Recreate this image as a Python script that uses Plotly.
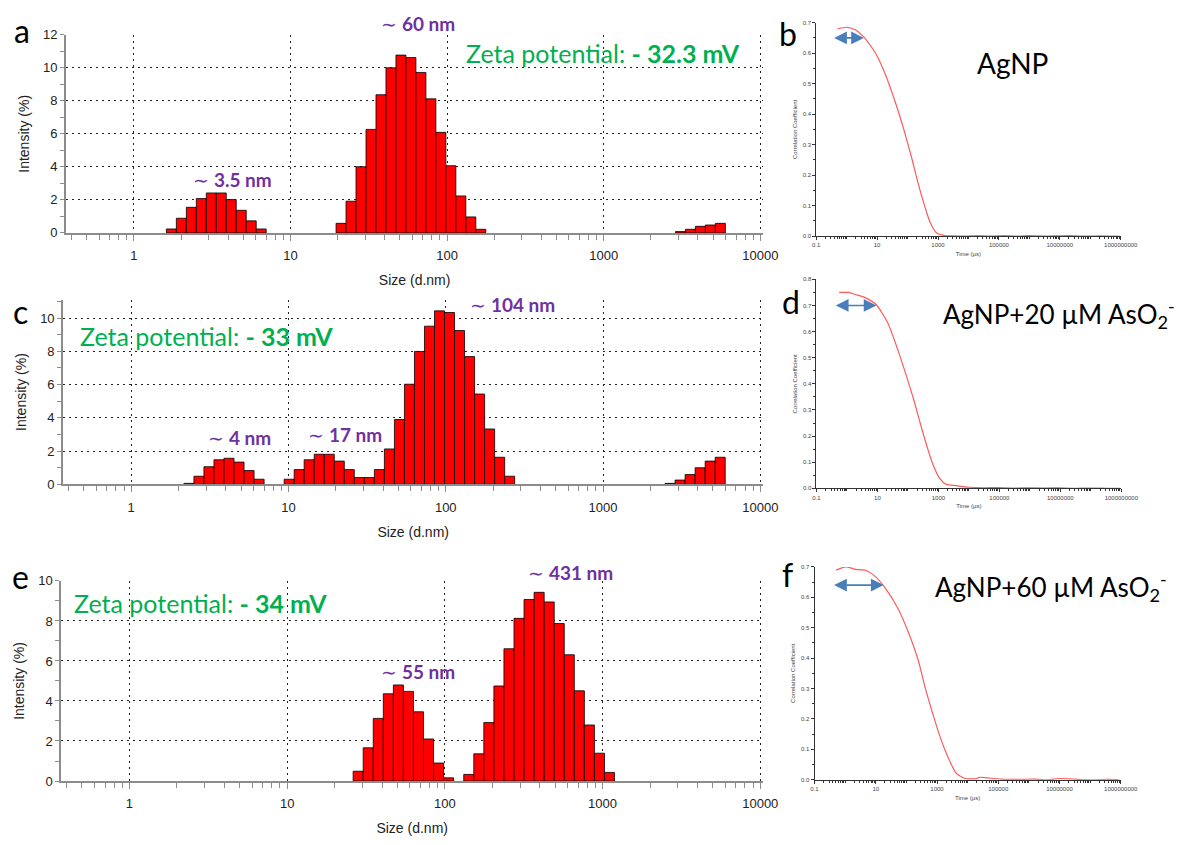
import numpy as np
import plotly.graph_objects as go

# ---------------- DATA ----------------
# DLS size classes (nm) and intensity (%) for the three samples
SIZES_A = [1.736, 2.010, 2.328, 2.696, 3.122, 3.615, 4.187, 4.849, 5.615, 6.503,
           21.04, 24.36, 28.21, 32.67, 37.84, 43.82, 50.75, 58.77, 68.06, 78.82,
           91.28, 105.7, 122.4, 141.8, 164.2,
           3091, 3580, 4145, 4801, 5560]
INT_A = [0.24, 0.89, 1.55, 2.08, 2.42, 2.42, 2.02, 1.37, 0.73, 0.24,
         0.58, 1.92, 4.01, 6.27, 8.37, 10.0, 10.77, 10.62, 9.72, 8.12,
         6.09, 4.07, 2.24, 0.97, 0.22,
         0.08, 0.22, 0.40, 0.48, 0.58]

SIZES_C = [2.328, 2.696, 3.122, 3.615, 4.187, 4.849, 5.615, 6.503,
           10.10, 11.70, 13.54, 15.69, 18.17, 21.04, 24.36, 28.21, 32.67, 37.84,
           43.82, 50.75, 58.77, 68.06, 78.82, 91.28, 105.7, 122.4, 141.8, 164.2,
           190.1, 220.2, 255.0,
           2669, 3091, 3580, 4145, 4801, 5560]
INT_C = [0.06, 0.49, 1.06, 1.48, 1.57, 1.34, 0.83, 0.31,
         0.31, 0.89, 1.48, 1.81, 1.81, 1.40, 0.89, 0.41, 0.41, 0.89,
         2.13, 3.90, 6.02, 7.99, 9.51, 10.43, 10.33, 9.25, 7.68, 5.43,
         3.33, 1.63, 0.49,
         0.06, 0.26, 0.59, 1.00, 1.40, 1.63]

SIZES_E = [28.21, 32.67, 37.84, 43.82, 50.75, 58.77, 68.06, 78.82, 91.28, 105.7,
           141.8, 164.2, 190.1, 220.2, 255.0, 295.3, 342.0, 396.1, 458.7, 531.2,
           615.1, 712.4, 825.0, 955.4, 1106]
INT_E = [0.49, 1.66, 3.13, 4.36, 4.80, 4.48, 3.46, 2.10, 0.90, 0.16,
         0.33, 1.36, 2.92, 4.75, 6.61, 8.13, 9.07, 9.43, 8.95, 7.87,
         6.31, 4.51, 2.80, 1.39, 0.43]

# correlation functions: time (µs) and correlation coefficient
T_B = [0.505, 1.06, 1.98, 3.70, 6.89, 10.0, 18.6, 39.4, 73.3, 136, 224, 370, 537, 883,
       1645, 3000, 8000, 2e4, 5e4, 1.5e5, 4e5, 1e6, 3e6, 8e6, 2e7, 6e7, 2e8, 6e8, 9e8]
G_B = [0.680, 0.685, 0.676, 0.653, 0.617, 0.591, 0.531, 0.440, 0.354, 0.258, 0.172, 0.097, 0.048, 0.011,
       0.002, 0.001, 0.000, 0.002, 0.000, 0.002, 0.000, 0.002, 0.000, 0.001, 0.002, 0.000, 0.001, 0.000, 0.000]

T_D = [0.556, 1.16, 1.89, 3.94, 9.3, 21.9, 45.7, 84.3, 155, 251, 414, 676, 1096, 1800, 3750,
       1e4, 3e4, 1e5, 3e5, 1e6, 3e6, 1e7, 3e7, 1e8, 4e8, 9e8]
G_D = [0.750, 0.750, 0.742, 0.730, 0.702, 0.633, 0.533, 0.439, 0.339, 0.251, 0.163, 0.088, 0.038, 0.015, 0.010,
       0.004, 0.002, 0.003, 0.001, 0.002, 0.001, 0.002, 0.000, 0.001, 0.000, 0.000]

T_F = [0.50, 1.05, 2.21, 4.64, 9.75, 20.5, 55.2, 116, 244, 400, 656, 1220, 2265, 4205, 7800,
       1.86e4, 2.4e4, 4.4e4, 1.2e5, 4e5, 1.5e6, 4e6, 1e7, 3e7, 1e8, 4e8, 9e8]
G_F = [0.689, 0.700, 0.692, 0.689, 0.668, 0.630, 0.560, 0.485, 0.393, 0.307, 0.232, 0.145, 0.075, 0.022, 0.005,
       0.003, 0.008, 0.006, 0.002, 0.001, 0.002, 0.000, 0.004, 0.002, 0.000, 0.001, 0.000]

SIZE_TICKS = [1, 10, 100, 1000, 10000]
TIME_TICKS = [0.1, 10, 1000, 1e5, 1e7, 1e9]
TIME_TICKTEXT = ["0.1", "10", "1000", "100000", "10000000", "1000000000"]

# ---------------- LAYOUT HELPERS ----------------
W, H = 1196, 845
BIN_W = np.log10(25000) / 69  # width of one size class in decades


def px(x):
    return x / W


def py(y):
    return 1 - y / H


AX_FONT = "Liberation Sans, Arial, sans-serif"
TXT_FONT = "Lato, Open Sans, sans-serif"
PURPLE = "#7030a0"
GREEN = "#00b050"
ARROW = "#4a7ebb"

fig = go.Figure()

hist_minor = [np.log10(m * 10.0 ** n) for n in range(-1, 4) for m in range(2, 10)]
hist_minor = [v for v in hist_minor if -0.434 <= v <= 4.02]
time_minor = [m * 10.0 ** n for n in range(-1, 9) for m in range(1, 10)]
time_minor = [v for v in time_minor if v not in TIME_TICKS]


def hist_axes(n, xdom, ydom, yrange):
    xa = dict(
        domain=[px(xdom[0]), px(xdom[1])], range=[-0.434, 4.02], anchor=f"y{n}",
        tickmode="array", tickvals=[np.log10(v) for v in SIZE_TICKS],
        ticktext=[str(v) for v in SIZE_TICKS],
        showgrid=True, griddash="2px,4px", gridcolor="#222", gridwidth=1,
        zeroline=False, showline=True, linecolor="#8c8c8c", linewidth=1.5,
        ticks="outside", ticklen=6, tickcolor="#8c8c8c", tickwidth=1,
        ticklabelstandoff=4,
        minor=dict(tickvals=hist_minor, ticks="outside", ticklen=5,
                   tickcolor="#8c8c8c", showgrid=False),
        tickfont=dict(family=AX_FONT, size=13, color="#222"),
        title=dict(text="Size (d.nm)", font=dict(family=AX_FONT, size=14, color="#222"),
                   standoff=13),
    )
    ya = dict(
        domain=[py(ydom[1]), py(ydom[0])], range=yrange, anchor=f"x{n}",
        tick0=0, dtick=2, showgrid=True, griddash="2px,4px", gridcolor="#222", gridwidth=1,
        zeroline=False, showline=True, linecolor="#8c8c8c", linewidth=1.5,
        ticks="outside", ticklen=4, tickcolor="#8c8c8c",
        minor=dict(dtick=1, tick0=0, ticks="outside", ticklen=4, tickcolor="#8c8c8c",
                   showgrid=False),
        tickfont=dict(family=AX_FONT, size=13, color="#222"),
        title=dict(text="Intensity (%)", font=dict(family=AX_FONT, size=14, color="#222"),
                   standoff=10),
    )
    return xa, ya


def corr_axes(n, xdom, ydom, ymax):
    xa = dict(
        type="log", domain=[px(xdom[0]), px(xdom[1])], range=[-1, 9], anchor=f"y{n}",
        tickmode="array", tickvals=TIME_TICKS, ticktext=TIME_TICKTEXT,
        showgrid=False, zeroline=False, showline=True, linecolor="#333", linewidth=1,
        ticks="outside", ticklen=3, tickcolor="#333",
        minor=dict(tickvals=time_minor, ticks="outside", ticklen=2, tickcolor="#333"),
        tickfont=dict(family=AX_FONT, size=6, color="#444"),
        title=dict(text="Time (µs)", font=dict(family=AX_FONT, size=6, color="#444"),
                   standoff=4),
    )
    ya = dict(
        domain=[py(ydom[1]), py(ydom[0])], range=[0, ymax], anchor=f"x{n}",
        tick0=0, dtick=0.1, tickformat=".1f",
        showgrid=False, zeroline=False, showline=True, linecolor="#333", linewidth=1,
        ticks="outside", ticklen=3, tickcolor="#333",
        minor=dict(dtick=0.05, tick0=0, ticks="outside", ticklen=2, tickcolor="#333"),
        tickfont=dict(family=AX_FONT, size=6, color="#444"),
        title=dict(text="Correlation Coefficient",
                   font=dict(family=AX_FONT, size=6, color="#444"), standoff=4),
    )
    return xa, ya


layout = {}
panels_hist = [
    (1, (63, 773), (28.3, 230), [0, 12], SIZES_A, INT_A),
    (3, (60, 773), (298, 486), [0, 11.1], SIZES_C, INT_C),
    (5, (58, 773), (584.3, 788), [0, 10], SIZES_E, INT_E),
]
for n, xd, yd, yr, sizes, vals in panels_hist:
    xa, ya = hist_axes(n, xd, yd, yr)
    layout["xaxis" if n == 1 else f"xaxis{n}"] = xa
    layout["yaxis" if n == 1 else f"yaxis{n}"] = ya
    fig.add_trace(go.Bar(
        x=np.log10(sizes), y=vals, width=BIN_W,
        marker=dict(color="#ff0000", line=dict(color="#000000", width=0.8)),
        xaxis=f"x{'' if n == 1 else n}", yaxis=f"y{'' if n == 1 else n}",
        showlegend=False, hoverinfo="skip",
    ))

panels_corr = [
    (2, (826.7, 1136.7), (16, 233.3), 0.7, T_B, G_B),
    (4, (827, 1137.3), (277.3, 490), 0.8, T_D, G_D),
    (6, (825, 1136.7), (570, 786.7), 0.7, T_F, G_F),
]
for n, xd, yd, ym, t, g in panels_corr:
    xa, ya = corr_axes(n, xd, yd, ym)
    layout[f"xaxis{n}"] = xa
    layout[f"yaxis{n}"] = ya
    fig.add_trace(go.Scatter(
        x=t, y=g, mode="lines", line=dict(color="#ff5a5a", width=1.2, shape="spline",
                                          smoothing=0.6),
        xaxis=f"x{n}", yaxis=f"y{n}", showlegend=False, hoverinfo="skip",
    ))

annotations = []


def text(xp, yp, s, size, color="#000", xanchor="center"):
    annotations.append(dict(
        x=px(xp), y=py(yp), xref="paper", yref="paper", text=s, showarrow=False,
        xanchor=xanchor, yanchor="middle",
        font=dict(family=TXT_FONT, size=size, color=color),
    ))


# panel letters
for lx, ly, s in [(18, 24, "a"), (798, 27, "b"), (17, 310, "c"), (801, 300, "d"),
                  (17, 580, "e"), (798, 578, "f")]:
    text(lx, ly, s, 32)

# peak labels
for lx, ly, s in [(233, 176, "3.5 nm"), (421, 17, "60 nm"), (240, 438, "4 nm"),
                  (347, 435, "17 nm"), (518, 303, "104 nm"), (421, 677, "55 nm"),
                  (577, 576, "431 nm")]:
    text(lx, ly, "∼ <b>" + s + "</b>", 19, PURPLE)

# zeta potentials
text(610, 47, "Zeta potential: <b>- 32.3 mV</b>", 25, GREEN)
text(206, 335, "Zeta potential: <b>- 33 mV</b>", 25, GREEN)
text(200, 607, "Zeta potential: <b>- 34 mV</b>", 25, GREEN)

# sample names
text(1027, 57, "AgNP", 28)
text(1074, 313, "AgNP+20 µM AsO<sub>2</sub><sup>-</sup>", 26)
text(1066, 590, "AgNP+60 µM AsO<sub>2</sub><sup>-</sup>", 26)

# double-headed arrows on correlation curves (log-axis coordinates)
for n, x0, x1, yv in [(2, -0.46, 0.568, 0.65), (4, -0.415, 0.968, 0.70), (6, -0.41, 1.258, 0.64)]:
    annotations.append(dict(
        x=x1, y=yv, ax=x0, ay=yv, xref=f"x{n}", yref=f"y{n}", axref=f"x{n}", ayref=f"y{n}",
        text="", showarrow=True, arrowside="end+start", arrowhead=2, arrowsize=1.5,
        arrowwidth=1.7, arrowcolor=ARROW, standoff=0, startstandoff=0,
    ))

fig.update_layout(
    autosize=True, margin=dict(l=0, r=0, t=0, b=0),
    paper_bgcolor="white", plot_bgcolor="white", barmode="overlay",
    annotations=annotations, showlegend=False,
    **layout,
)

POST = (
    "var s=document.documentElement.style;s.margin='0';s.padding='0';s.overflow='hidden';"
    "var b=document.body.style;b.margin='0';b.padding='0';b.overflow='hidden';"
    "var g=document.querySelector('.plotly-graph-div');"
    "g.style.position='fixed';g.style.left='0px';g.style.top='0px';"
    "g.style.width='100vw';g.style.height='100vh';"
    "Plotly.Plots.resize(g);"
)

fig.write_html("out.html", config={"displayModeBar": False, "responsive": True},
               default_width="100vw", default_height="100vh", post_script=POST)
